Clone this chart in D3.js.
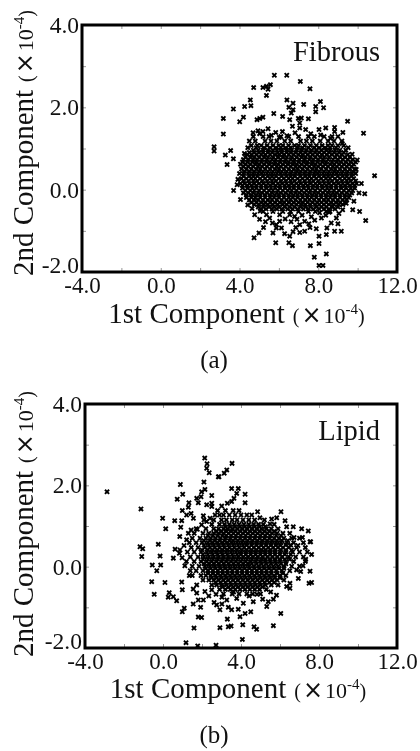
<!DOCTYPE html>
<html>
<head>
<meta charset="utf-8">
<script src="https://cdn.jsdelivr.net/npm/d3@7"></script>
<style>
  html, body { margin: 0; padding: 0; background: #fff; }
  svg { display: block; filter: blur(0.3px); }
  text { font-family: "Liberation Serif", "Times New Roman", serif; fill: #111; }
</style>
</head>
<body>
<div id="chart"></div>
<script>
// ######################## Data (units of 1e-4) ###########
const xTickLabels = ["-4.0", "0.0", "4.0", "8.0", "12.0"];
const yTickLabels = ["-2.0", "0.0", "2.0", "4.0"];
const xMinorTicks = [-4, -2, 0, 2, 4, 6, 8, 10, 12];
const yMinorTicks = [-2, -1, 0, 1, 2, 3, 4];

const fibrousOutliers = [
  [5.77,2.78],[6.40,2.78],[7.09,2.63],[7.58,2.45],[4.72,2.48],[5.19,2.48],[5.37,2.51],[5.57,2.55],[5.45,2.44],[5.37,2.29],
  [4.55,2.18],[4.58,2.04],[4.26,2.02],[3.69,1.96],[3.18,1.73],[4.20,1.76],[4.01,1.65],[3.18,1.35],[2.71,1.04],[2.71,0.94],
  [3.55,0.95],[3.28,0.84],[3.69,0.75],[3.37,0.61],[10.30,1.37],[9.49,1.66],[6.41,2.18],[6.72,2.10],[6.51,2.00],[6.72,1.94],
  [6.63,1.86],[7.26,2.07],[7.87,2.02],[7.87,1.89],[8.11,2.14],[8.27,1.99],[5.74,1.85],[4.89,1.70],[5.03,1.73],[5.19,1.76],
  [6.19,1.78],[6.55,1.70],[6.99,1.73],[7.14,1.74],[7.50,1.72],[6.69,1.54],[7.06,1.62],[7.06,1.50],[7.36,1.46],[5.45,1.48],
  [4.94,1.43],[4.69,1.38],[5.19,1.41],[5.84,1.39],[6.18,1.41],[6.41,1.31],[8.04,1.46],[8.38,1.50],[8.83,1.51],[8.83,1.41],
  [9.25,1.39],[10.86,0.34],[9.93,0.49],[10.19,0.15],[10.07,-0.08],[10.36,-0.10],[9.81,-0.28],[10.10,-0.53],[10.41,-0.75],
  [8.92,-0.69],[8.66,-0.81],[9.00,-0.83],[4.77,-0.61],[5.53,-0.69],[5.67,-0.81],[6.04,-0.77],[5.87,-0.93],[6.13,-0.93],
  [5.70,-1.05],[4.99,-1.05],[4.74,-1.17],[5.84,-1.29],[6.51,-1.29],[6.69,-1.36],[7.60,-1.36],[8.04,-1.31],[8.04,-1.13],
  [8.41,-1.09],[8.44,-0.93],[8.83,-1.01],[9.17,-1.01],[7.90,-0.95],[7.06,-1.04],[7.31,-1.01],[6.55,-1.13],[6.29,-1.07],
  [8.41,-1.56],[7.80,-1.64],[8.04,-1.84],[8.24,-1.84],[6.80,-0.65],[7.31,-0.77],[7.65,-0.66],[8.16,-0.69],[6.55,-0.61],
  [6.04,-0.61],[5.37,-0.61],[7.06,-0.85],[5.87,-0.85],[8.07,-0.56],[8.73,-0.41],[9.24,-0.49],[9.75,-0.49],
  [3.92,0.25],[3.88,0.12],[3.70,-0.02],[4.05,-0.24],[4.42,-0.37],
  // fringe under and over the dense part
  [5.02,-0.72],[5.32,-0.78],[6.32,-0.71],[6.62,-0.78],[6.92,-0.72],[7.18,-0.62],[7.52,-0.83],[7.82,-0.74],[8.38,-0.62],[8.55,-0.55],
  [9.05,-0.58],[9.42,-0.33],[6.86,-0.92],[7.58,-0.92],[6.72,-1.02],[5.22,-0.92],[4.64,-0.46],[5.05,-0.52],
  [4.42,1.02],[4.25,0.88],[5.02,1.36],[5.62,1.32],[6.02,1.27],[6.82,1.38],[7.62,1.36],[8.12,1.33],[8.62,1.25],[9.22,1.12],[9.52,1.02],[9.72,0.86],[9.98,0.72]
];

// dense middle of the cloud: one row per y value, x positions estimated
const fibrousCoreRows = [
  [1.29, [4.7,5.2,5.5,6.1,6.5,7.0,7.5,7.8,8.3,8.7,9.0]],
  [1.18, [4.5,4.8,5.3,5.6,5.9,6.3,6.6,7.1,7.4,7.7,8.1,8.5,8.8,9.2]],
  [1.07, [4.6,4.9,5.1,5.4,5.7,6.0,6.2,6.5,6.8,7.0,7.3,7.6,7.9,8.2,8.5,8.7,9.0,9.3]],
  [0.96, [4.7,4.95,5.2,5.45,5.7,5.9,6.15,6.4,6.65,6.9,7.15,7.4,7.65,7.9,8.15,8.4,8.6,8.85,9.1,9.4]],
  [0.85, [4.4,4.6,4.85,5.1,5.3,5.55,5.8,6.0,6.25,6.5,6.75,7.0,7.2,7.45,7.7,7.95,8.2,8.45,8.7,8.95,9.2,9.5]],
  [0.73, [4.2,4.45,4.7,4.9,5.15,5.4,5.65,5.85,6.1,6.35,6.6,6.8,7.05,7.3,7.55,7.75,8.0,8.25,8.5,8.75,9.0,9.25,9.5,9.75]],
  [0.62, [4.05,4.3,4.55,4.8,5.0,5.25,5.5,5.75,5.95,6.2,6.45,6.7,6.9,7.15,7.4,7.65,7.85,8.1,8.35,8.6,8.8,9.05,9.3,9.55,9.8]],
  [0.50, [4.1,4.35,4.6,4.85,5.05,5.3,5.55,5.8,6.0,6.25,6.5,6.75,6.95,7.2,7.45,7.7,7.9,8.15,8.4,8.65,8.85,9.1,9.35,9.6,9.85]],
  [0.39, [4.0,4.2,4.45,4.7,4.95,5.15,5.4,5.65,5.9,6.1,6.35,6.6,6.85,7.05,7.3,7.55,7.8,8.0,8.25,8.5,8.75,8.95,9.2,9.45,9.7,9.9]],
  [0.27, [4.1,4.35,4.6,4.8,5.05,5.3,5.55,5.75,6.0,6.25,6.5,6.7,6.95,7.2,7.45,7.65,7.9,8.15,8.4,8.6,8.85,9.1,9.35,9.55,9.8]],
  [0.15, [4.05,4.25,4.5,4.75,5.0,5.2,5.45,5.7,5.95,6.15,6.4,6.65,6.9,7.1,7.35,7.6,7.85,8.05,8.3,8.55,8.8,9.0,9.25,9.5,9.75,9.95]],
  [0.04, [4.15,4.4,4.65,4.85,5.1,5.35,5.6,5.8,6.05,6.3,6.55,6.75,7.0,7.25,7.5,7.7,7.95,8.2,8.45,8.65,8.9,9.15,9.4,9.65,9.85]],
  [-0.08, [4.2,4.45,4.7,4.95,5.15,5.4,5.65,5.9,6.1,6.35,6.6,6.85,7.05,7.3,7.55,7.8,8.0,8.25,8.5,8.75,8.95,9.2,9.45,9.7]],
  [-0.19, [4.35,4.6,4.8,5.05,5.3,5.55,5.75,6.0,6.25,6.5,6.7,6.95,7.2,7.45,7.65,7.9,8.15,8.4,8.6,8.85,9.1,9.35,9.55]],
  [-0.31, [4.6,4.85,5.1,5.3,5.55,5.8,6.05,6.25,6.5,6.75,7.0,7.2,7.45,7.7,7.95,8.15,8.4,8.65,8.9,9.1,9.35]],
  [-0.42, [4.95,5.2,5.5,5.75,6.0,6.3,6.55,6.8,7.1,7.35,7.6,7.9,8.15,8.4,8.7,9.0]],
  [-0.53, [5.2,5.7,6.2,6.6,7.0,7.5,7.85,8.4,8.6]]
];

// second pass through the black part, the rows above leave holes
const fibrousFillRows = [
  [1.02, [4.85,5.25,5.55,5.85,6.1,6.35,6.6,6.95,7.2,7.5,7.8,8.05,8.35,8.6,8.9]],
  [0.90, [4.5,4.75,5.0,5.2,5.45,5.65,5.95,6.15,6.4,6.6,6.85,7.1,7.35,7.6,7.85,8.05,8.3,8.55,8.8,9.05,9.3]],
  [0.79, [4.3,4.55,4.75,5.0,5.25,5.45,5.7,5.95,6.2,6.4,6.65,6.9,7.15,7.35,7.6,7.85,8.1,8.3,8.55,8.85,9.1,9.35,9.6]],
  [0.67, [4.15,4.4,4.65,4.85,5.1,5.35,5.55,5.8,6.05,6.3,6.5,6.75,7.0,7.25,7.45,7.7,7.95,8.2,8.4,8.7,8.95,9.15,9.4,9.65,9.9]],
  [0.56, [4.2,4.45,4.7,4.95,5.15,5.4,5.65,5.9,6.1,6.35,6.6,6.85,7.05,7.3,7.55,7.8,8.0,8.25,8.5,8.75,8.95,9.2,9.45,9.7]],
  [0.44, [4.25,4.5,4.75,5.0,5.2,5.45,5.7,5.95,6.15,6.4,6.65,6.9,7.1,7.35,7.6,7.85,8.05,8.3,8.55,8.8,9.0,9.25,9.5,9.75]],
  [0.33, [4.2,4.5,4.7,4.9,5.2,5.45,5.65,5.85,6.15,6.4,6.6,6.8,7.1,7.35,7.55,7.8,8.05,8.3,8.5,8.7,9.0,9.25,9.45,9.7]],
  [0.21, [4.2,4.45,4.7,4.9,5.15,5.4,5.65,5.85,6.1,6.35,6.6,6.8,7.05,7.3,7.55,7.75,8.0,8.25,8.5,8.7,8.95,9.2,9.45,9.65,9.9]],
  [0.10, [4.15,4.4,4.6,4.85,5.1,5.35,5.55,5.85,6.05,6.3,6.5,6.75,7.0,7.25,7.45,7.75,7.95,8.2,8.4,8.65,8.9,9.15,9.35,9.6,9.85]],
  [-0.02, [4.3,4.55,4.75,5.0,5.25,5.5,5.7,5.95,6.2,6.45,6.65,6.9,7.15,7.4,7.6,7.85,8.1,8.35,8.55,8.8,9.05,9.3,9.55,9.75]],
  [-0.13, [4.35,4.6,4.85,5.05,5.3,5.55,5.8,6.0,6.25,6.5,6.75,6.95,7.2,7.45,7.7,7.9,8.15,8.4,8.65,8.85,9.1,9.35,9.6]],
  [-0.25, [4.5,4.75,4.95,5.2,5.45,5.65,5.9,6.15,6.4,6.6,6.85,7.1,7.35,7.55,7.8,8.05,8.3,8.5,8.75,9.0,9.25,9.45]],
  [-0.36, [4.75,5.0,5.25,5.45,5.7,5.95,6.2,6.4,6.65,6.9,7.15,7.35,7.6,7.85,8.05,8.3,8.55,8.8,9.05,9.25]],
  [-0.47, [5.1,5.35,5.65,5.9,6.15,6.45,6.7,6.95,7.25,7.5,7.75,8.05,8.3,8.55,8.85]]
];

const lipidOutliers = [
  [-2.87,1.84],[-1.13,1.42],[-0.02,1.19],[0.14,0.93],[0.60,1.13],[0.96,1.13],[0.91,0.97],[0.86,0.74],[-1.18,0.49],[-1.04,0.44],
  [-0.24,0.55],[2.14,2.67],[2.26,2.53],[2.24,2.42],[2.37,2.31],[2.84,2.21],[0.89,2.02],[2.10,2.08],[1.01,1.78],[0.73,1.66],
  [2.15,1.90],[1.98,1.84],[1.95,1.72],[2.50,1.75],[1.33,1.57],[1.73,1.68],[1.81,1.57],[1.30,1.46],[0.99,1.38],[1.21,1.27],
  [1.44,1.31],[1.56,1.19],[2.24,1.52],[2.50,1.48],[2.07,1.25],[2.41,1.19],[2.67,1.27],[2.24,1.11],[1.98,1.03],[1.44,0.90],
  [1.76,0.92],[1.21,0.66],[-1.09,0.25],[-0.15,0.26],[0.53,0.21],[0.62,0.43],[0.84,0.33],[0.87,0.41],[-0.55,0.04],[-0.12,0.04],
  [-0.32,-0.10],[-0.58,-0.37],[0.10,-0.39],[0.96,-0.38],[-0.45,-0.68],[0.99,-0.57],[0.32,-0.64],[0.27,-0.75],[0.53,-0.74],
  [0.70,-0.84],[1.55,-0.92],[1.73,-0.45],[1.73,-0.65],[2.15,-0.61],[2.50,-0.57],[1.81,-0.82],[2.07,-0.82],[1.93,-1.00],
  [1.09,-1.02],[0.99,-1.11],[1.81,-1.24],[1.98,-1.25],[1.59,-1.51],[2.92,-1.50],[3.35,-1.48],[3.49,-1.46],[4.09,-1.43],
  [4.67,-1.48],[4.80,-1.54],[5.66,-1.45],[4.07,-1.79],[1.18,-1.87],[1.78,-1.95],[2.72,-1.93],[3.30,-1.29],[3.95,-1.23],
  [4.21,-1.15],[4.50,-1.11],[6.04,-1.15],[5.32,-0.98],[5.66,-0.80],[5.40,-0.86],[5.11,-0.80],[2.92,-1.06],[3.35,-1.00],
  [3.52,-1.06],[3.86,-1.05],[2.75,-0.94],[3.27,-0.82],[3.78,-0.78],[4.12,-0.90],[4.63,-0.86],[7.54,0.61],[7.62,0.30],
  [7.54,-0.11],[7.06,-0.12],[7.62,-0.39],[7.49,-0.41],[6.94,-0.29],[6.34,-0.49],[6.51,-0.53],[6.51,-0.41],
  [3.54,2.54],[3.27,2.38],[3.14,2.30],[2.87,2.21],[3.52,1.92],[3.86,1.92],[3.78,1.80],[3.64,1.68],[3.52,1.60],[4.21,1.78],
  [4.21,1.57],[3.30,1.56],[3.01,1.49],[2.50,1.56],[6.05,1.35],[4.85,1.35],[4.55,1.27],[4.97,1.20],[5.57,1.17],[5.83,1.20],
  [6.26,1.13],[5.49,1.05],[6.34,0.98],[6.68,0.98],[7.11,0.93],[7.45,0.88],[7.57,0.61],
  // fringe under and right of the dense part
  [2.35,-0.72],[2.72,-0.68],[3.02,-0.75],[3.62,-0.62],[4.42,-0.72],[4.82,-0.68],[5.52,-0.62],[5.82,-0.70],[2.62,-0.88],[3.02,-0.92],
  [1.35,-0.22],[1.55,-0.55],[1.12,0.02],[0.98,0.22],[1.08,0.52],[6.72,0.72],[6.92,0.52],[7.15,0.72],[7.32,0.18],[7.18,0.02],[6.85,-0.08]
];

const lipidCoreRows = [
  [1.38, [2.8,3.2,3.6,3.9]],
  [1.27, [2.9,3.1,3.4,3.7,4.0,4.3]],
  [1.15, [2.1,2.6,3.0,3.25,3.55,3.8,4.1,4.4,4.7,5.2]],
  [1.04, [2.5,2.9,3.15,3.4,3.65,3.9,4.15,4.4,4.65,4.9,5.15,5.7]],
  [0.93, [1.7,2.2,2.6,2.85,3.1,3.3,3.55,3.8,4.05,4.3,4.55,4.8,5.05,5.3,5.55,5.9]],
  [0.82, [1.3,1.6,2.05,2.35,2.6,2.85,3.1,3.35,3.6,3.85,4.1,4.35,4.6,4.85,5.1,5.35,5.6,5.85,6.15,6.5]],
  [0.70, [1.5,1.9,2.2,2.45,2.7,2.95,3.2,3.45,3.7,3.95,4.2,4.45,4.7,4.95,5.2,5.45,5.7,5.95,6.2,6.6,7.0]],
  [0.59, [1.35,1.7,2.0,2.3,2.55,2.8,3.05,3.3,3.55,3.8,4.05,4.3,4.55,4.8,5.05,5.3,5.55,5.8,6.05,6.35,6.7,7.2]],
  [0.47, [1.45,1.8,2.15,2.4,2.65,2.9,3.15,3.4,3.65,3.9,4.15,4.4,4.65,4.9,5.15,5.4,5.65,5.9,6.15,6.45,6.85,7.3]],
  [0.36, [1.25,1.6,1.95,2.25,2.5,2.75,3.0,3.25,3.5,3.75,4.0,4.25,4.5,4.75,5.0,5.25,5.5,5.75,6.0,6.3,6.65,7.0,7.4]],
  [0.24, [1.4,1.8,2.1,2.35,2.6,2.85,3.1,3.35,3.6,3.85,4.1,4.35,4.6,4.85,5.1,5.35,5.6,5.85,6.1,6.45,6.8,7.2]],
  [0.13, [1.2,1.6,1.95,2.25,2.5,2.75,3.0,3.25,3.5,3.75,4.0,4.25,4.5,4.75,5.0,5.25,5.5,5.75,6.0,6.3,6.7,7.3]],
  [0.01, [1.5,1.85,2.15,2.4,2.65,2.9,3.15,3.4,3.65,3.9,4.15,4.4,4.65,4.9,5.15,5.4,5.65,5.9,6.2,6.6,7.0]],
  [-0.10, [1.4,1.7,2.05,2.3,2.55,2.8,3.05,3.3,3.55,3.8,4.05,4.3,4.55,4.8,5.05,5.3,5.55,5.8,6.1,6.5]],
  [-0.22, [1.5,1.95,2.2,2.45,2.7,2.95,3.2,3.45,3.7,3.95,4.2,4.45,4.7,4.95,5.2,5.45,5.7,6.0,6.3]],
  [-0.33, [2.05,2.35,2.6,2.85,3.1,3.35,3.6,3.85,4.1,4.35,4.6,4.85,5.1,5.35,5.6,5.85,6.2]],
  [-0.45, [2.5,2.75,3.0,3.25,3.5,3.75,4.0,4.25,4.5,4.75,5.0,5.25,5.55,5.9]],
  [-0.56, [2.9,3.2,3.45,3.7,3.95,4.2,4.45,4.7,4.95,5.3]],
  [-0.67, [3.1,3.55,3.9,4.3,4.6,5.0]]
];

const lipidFillRows = [
  [0.98, [3.2,3.45,3.7,3.95,4.2,4.45,4.7,4.95,5.25]],
  [0.87, [2.75,3.0,3.25,3.5,3.7,3.95,4.2,4.45,4.7,4.95,5.2,5.45,5.7]],
  [0.76, [2.3,2.55,2.8,3.05,3.25,3.5,3.75,4.0,4.25,4.5,4.75,5.0,5.25,5.5,5.8,6.05]],
  [0.64, [2.1,2.4,2.65,2.9,3.15,3.4,3.6,3.85,4.1,4.35,4.6,4.85,5.1,5.35,5.6,5.85,6.1,6.4]],
  [0.53, [2.1,2.35,2.6,2.85,3.1,3.35,3.6,3.85,4.1,4.3,4.55,4.8,5.05,5.3,5.55,5.8,6.0,6.3,6.55]],
  [0.41, [2.0,2.3,2.55,2.8,3.05,3.3,3.55,3.8,4.05,4.3,4.55,4.8,5.05,5.25,5.5,5.75,6.05,6.3,6.6]],
  [0.30, [2.05,2.3,2.55,2.8,3.05,3.3,3.55,3.8,4.0,4.25,4.5,4.75,5.0,5.25,5.5,5.75,6.0,6.25,6.55]],
  [0.18, [2.05,2.3,2.55,2.8,3.05,3.3,3.55,3.8,4.05,4.3,4.55,4.8,5.05,5.25,5.5,5.75,6.0,6.25,6.5]],
  [0.07, [2.1,2.35,2.6,2.85,3.1,3.35,3.6,3.85,4.1,4.35,4.55,4.8,5.05,5.3,5.55,5.8,6.05,6.3]],
  [-0.04, [2.2,2.45,2.7,2.95,3.2,3.45,3.7,3.95,4.2,4.45,4.7,4.95,5.2,5.45,5.7,5.95,6.2]],
  [-0.16, [2.3,2.55,2.8,3.05,3.3,3.55,3.8,4.05,4.3,4.55,4.8,5.05,5.3,5.55,5.85,6.15]],
  [-0.27, [2.5,2.75,3.0,3.25,3.5,3.75,4.0,4.25,4.5,4.75,5.0,5.25,5.5,5.75,6.0]],
  [-0.39, [2.7,2.95,3.2,3.45,3.7,3.95,4.2,4.45,4.7,4.95,5.2,5.45,5.7]],
  [-0.50, [3.05,3.35,3.6,3.85,4.1,4.35,4.6,4.85,5.1]]
];

// ####################### Code #################################################
const width = 420, height = 751;

const svg = d3.select("#chart")
  .append("svg")
  .attr("width", width)
  .attr("height", height);

function flattenRows(rows) {
  return rows.flatMap(([y, xs]) => xs.map(x => [x, y]));
}

function drawPanel(opts) {
  const { left, right, top, bottom, name, caption, outliers, coreRows, fillRows, nameY, xTitleY, captionY, yTitleBottom } = opts;

  const x = d3.scaleLinear().domain([-4, 12]).range([left, right]);
  const y = d3.scaleLinear().domain([-2, 4]).range([bottom, top]);

  const g = svg.append("g");

  // points first, the frame goes over them
  const points = outliers.concat(flattenRows(coreRows), flattenRows(fillRows));
  const marker = d3.symbol().type(d3.symbolX).size(13);
  g.append("g")
    .selectAll("path")
    .data(points)
    .join("path")
    .attr("transform", d => `translate(${x(d[0])},${y(d[1])})`)
    .attr("d", marker)
    .attr("fill", "none")
    .attr("stroke", "#000")
    .attr("stroke-width", 1.9);

  // small inward ticks on all four sides
  const tickAxes = [
    [d3.axisBottom(x).tickValues(xMinorTicks), `translate(0,${bottom})`],
    [d3.axisTop(x).tickValues(xMinorTicks), `translate(0,${top})`],
    [d3.axisLeft(y).tickValues(yMinorTicks), `translate(${left},0)`],
    [d3.axisRight(y).tickValues(yMinorTicks), `translate(${right},0)`]
  ];
  tickAxes.forEach(([axis, transform]) => {
    const t = g.append("g")
      .attr("transform", transform)
      .call(axis.tickSize(-4).tickFormat(""));
    t.select(".domain").remove();
    t.selectAll("line").attr("stroke", "#999").attr("stroke-width", 1);
  });

  g.append("rect")
    .attr("x", left)
    .attr("y", top)
    .attr("width", right - left)
    .attr("height", bottom - top)
    .attr("fill", "none")
    .attr("stroke", "#000")
    .attr("stroke-width", 3);

  // tick labels
  const xLabels = g.append("g")
    .attr("transform", `translate(0,${bottom})`)
    .call(d3.axisBottom(x).tickValues(xTickLabels.map(Number)).tickSize(0).tickPadding(0)
      .tickFormat((d, i) => xTickLabels[i]));
  xLabels.select(".domain").remove();
  xLabels.selectAll("text")
    .attr("font-family", "Liberation Serif")
    .attr("font-size", 23)
    .attr("dy", null)
    .attr("y", 21);

  const yLabels = g.append("g")
    .attr("transform", `translate(${left},0)`)
    .call(d3.axisLeft(y).tickValues(yTickLabels.map(Number)).tickSize(0).tickPadding(3)
      .tickFormat((d, i) => yTickLabels[i]));
  yLabels.select(".domain").remove();
  yLabels.selectAll("text")
    .attr("font-family", "Liberation Serif")
    .attr("font-size", 23.5)
    .attr("dy", "0.32em");
  // the bottom label sits on the frame line, not centred on it
  yLabels.selectAll("text")
    .filter(d => d === -2)
    .attr("dy", "0em");

  g.append("text")
    .attr("x", right - 17)
    .attr("y", nameY)
    .attr("text-anchor", "end")
    .attr("font-size", 28.5)
    .text(name);

  axisTitle(g.append("text")
    .attr("x", (left + right) / 2 - 3)
    .attr("y", xTitleY)
    .attr("text-anchor", "middle"), "1st Component");

  axisTitle(g.append("text")
    .attr("transform", `translate(33,${yTitleBottom}) rotate(-90)`), "2nd Component");

  g.append("text")
    .attr("x", 214)
    .attr("y", captionY)
    .attr("text-anchor", "middle")
    .attr("font-size", 25)
    .text(caption);
}

// title plus the "( x 10^-4 )" unit part
function axisTitle(text, label) {
  text.attr("font-size", 29);
  text.append("tspan").text(label);
  text.append("tspan").attr("font-size", 20).attr("dx", 8).text("(");
  text.append("tspan")
    .attr("font-size", 24)
    .attr("dx", 2)
    .style("font-family", "'DejaVu Sans'")
    .text("×");
  text.append("tspan").attr("font-size", 22).attr("dx", 2).text("10");
  text.append("tspan").attr("font-size", 15).attr("dy", -9).text("-4");
  text.append("tspan").attr("font-size", 20).attr("dy", 9).text(")");
}

drawPanel({
  left: 82, right: 397, top: 25, bottom: 272,
  name: "Fibrous", caption: "(a)",
  outliers: fibrousOutliers, coreRows: fibrousCoreRows, fillRows: fibrousFillRows,
  nameY: 61, xTitleY: 323, captionY: 368, yTitleBottom: 276
});

drawPanel({
  left: 85, right: 397, top: 404, bottom: 648,
  name: "Lipid", caption: "(b)",
  outliers: lipidOutliers, coreRows: lipidCoreRows, fillRows: lipidFillRows,
  nameY: 440, xTitleY: 698, captionY: 743, yTitleBottom: 657
});
</script>
</body>
</html>
